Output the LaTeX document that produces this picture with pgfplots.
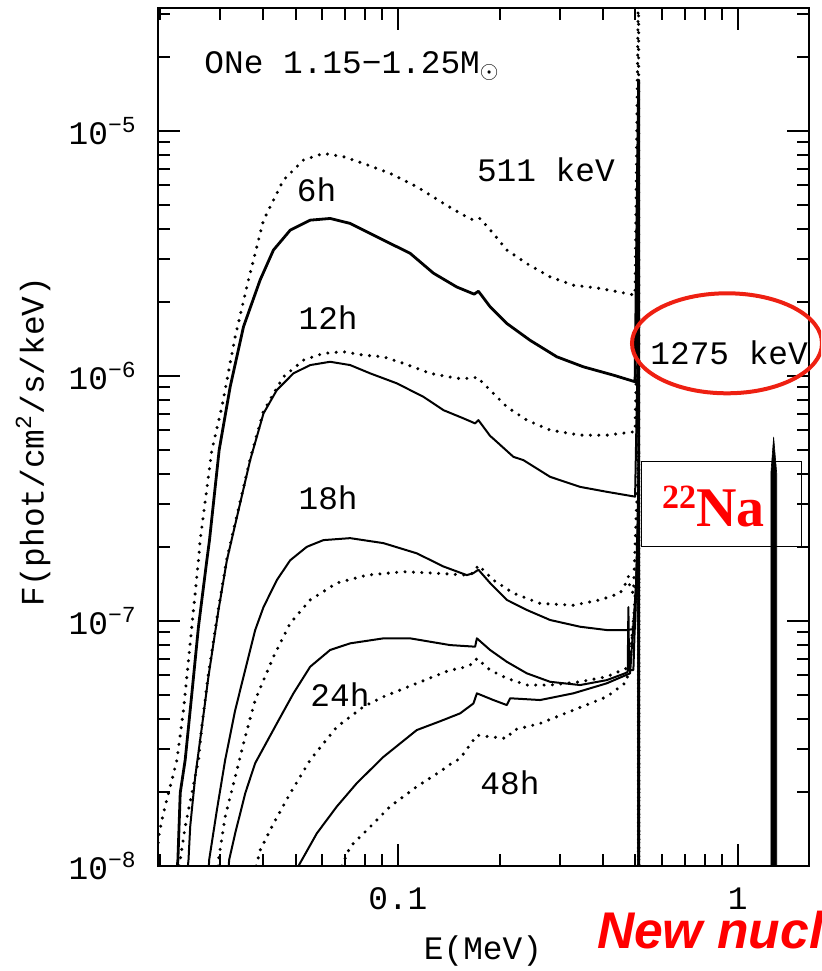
\documentclass[border=0pt]{standalone}
\usepackage{pgfplots}
\pgfplotsset{compat=1.18}
\usepackage{fontspec}
\setmainfont{Liberation Serif}
\setmonofont{Liberation Mono}
\newfontfamily\sansf{Liberation Sans}
\definecolor{annred}{RGB}{238,32,18}
\definecolor{txtred}{RGB}{255,0,0}
\newcommand{\monof}{\ttfamily\fontsize{16.4}{18}\selectfont}
\begin{document}
\begin{tikzpicture}
\useasboundingbox (-79pt,-52.5pt) rectangle (331.5pt,433pt);
\clip (-79pt,-52.5pt) rectangle (331.5pt,433pt);
\begin{axis}[
  at={(0pt,0pt)}, anchor=south west,
  scale only axis, width=325.5pt, height=429pt,
  xmode=log, ymode=log,
  xmin=0.0197, xmax=1.62, ymin=1e-8, ymax=3.18e-5,
  axis line style={line width=1.1pt},
  xtick={0.1,1}, xticklabels={0.1,1},
  minor xtick={0.02,0.03,0.04,0.05,0.06,0.07,0.08,0.09,0.2,0.3,0.4,0.5,0.6,0.7,0.8,0.9},
  ytick={1e-8,1e-7,1e-6,1e-5},
  yticklabels={10\textsuperscript{−8},10\textsuperscript{−7},10\textsuperscript{−6},10\textsuperscript{−5}},
  minor ytick={2e-8,3e-8,4e-8,5e-8,6e-8,7e-8,8e-8,9e-8,2e-7,3e-7,4e-7,5e-7,6e-7,7e-7,8e-7,9e-7,2e-6,3e-6,4e-6,5e-6,6e-6,7e-6,8e-6,9e-6,2e-5,3e-5},
  major tick length=11pt, minor tick length=6pt,
  tick style={black, line width=1pt},
  tick align=inside,
  tick label style={font=\monof, inner sep=0pt},
  xticklabel style={yshift=-10.5pt},
  yticklabel style={xshift=-10.5pt},
  solidc/.style={black, line width=1pt, line join=round},
  dotc/.style={black, line width=1.7pt, line cap=round, dash pattern=on 0pt off 4.2pt},
]
% 6h dotted
\addplot[dotc] coordinates {(0.0196,1.15e-8) (0.01986,1.36e-8) (0.02045,1.65e-8) (0.0214,2.11e-8) (0.02239,2.71e-8) (0.02341,4.33e-8) (0.02422,6.93e-8) (0.02505,1.11e-7) (0.02591,1.77e-7) (0.02621,2.14e-7) (0.02837,4.99e-7) (0.03037,7.49e-7) (0.03323,1.45e-6) (0.03636,2.47e-6) (0.04025,4.33e-6) (0.04607,6.31e-6) (0.05278,7.62e-6) (0.06042,8.11e-6) (0.06918,7.86e-6) (0.07921,7.38e-6) (0.09493,6.72e-6) (0.1137,5.93e-6) (0.1362,5.07e-6) (0.156,4.54e-6) (0.1669,4.33e-6) (0.1746,4.40e-6) (0.191,3.82e-6) (0.2092,3.27e-6) (0.2395,2.88e-6) (0.2805,2.54e-6) (0.3284,2.35e-6) (0.3936,2.28e-6) (0.4988,2.14e-6) (0.511,5e-5) (0.511,1e-9)};
% 6h solid
\addplot[solidc, line width=1.4pt] coordinates {(0.02245,1e-8) (0.02254,1.06e-8) (0.0229,1.99e-8) (0.02368,2.71e-8) (0.02478,5.07e-8) (0.02591,9.48e-8) (0.02742,1.77e-7) (0.02792,2.14e-7) (0.02981,4.99e-7) (0.03212,9.04e-7) (0.03515,1.59e-6) (0.03936,2.47e-6) (0.04306,3.27e-6) (0.04822,3.94e-6) (0.05522,4.33e-6) (0.06322,4.40e-6) (0.0724,4.20e-6) (0.0829,3.82e-6) (0.09493,3.48e-6) (0.1087,3.17e-6) (0.1273,2.63e-6) (0.1491,2.31e-6) (0.1677,2.16e-6) (0.1726,2.22e-6) (0.1868,1.92e-6) (0.2092,1.64e-6) (0.2449,1.40e-6) (0.2935,1.199e-6) (0.3514,1.091e-6) (0.4306,1.009e-6) (0.4988,9.48e-7) (0.511,1.616e-5) (0.511,1e-9)};
% 12h dotted
\addplot[dotc] coordinates {(0.0228,1e-8) (0.0229,1.06e-8) (0.02368,1.45e-8) (0.02478,1.98e-8) (0.02591,2.71e-8) (0.02652,3.75e-8) (0.02772,6.1e-8) (0.02968,1.13e-7) (0.03141,1.8e-7) (0.03678,4.6e-7) (0.04025,7.2e-7) (0.04607,9.93e-7) (0.05278,1.162e-6) (0.06042,1.238e-6) (0.06918,1.257e-6) (0.07921,1.218e-6) (0.09072,1.199e-6) (0.1039,1.127e-6) (0.1245,1.026e-6) (0.1491,9.79e-7) (0.1669,9.79e-7) (0.1708,9.93e-7) (0.1827,9.04e-7) (0.191,8.5e-7) (0.2092,7.49e-7) (0.2395,6.61e-7) (0.2805,6.02e-7) (0.3437,5.74e-7) (0.4118,5.74e-7) (0.4988,5.93e-7) (0.511,3e-6) (0.511,1e-9)};
% 12h solid
\addplot[solidc] coordinates {(0.02412,1e-8) (0.02422,1.06e-8) (0.0245,1.45e-8) (0.02534,2.31e-8) (0.02652,3.70e-8) (0.02772,5.93e-8) (0.02968,1.11e-7) (0.03141,1.77e-7) (0.03678,4.54e-7) (0.04025,7.04e-7) (0.04406,8.77e-7) (0.04931,1.026e-6) (0.05522,1.109e-6) (0.06322,1.144e-6) (0.0724,1.109e-6) (0.0829,1.026e-6) (0.09933,9.34e-7) (0.1189,8.23e-7) (0.1362,7.26e-7) (0.156,6.72e-7) (0.1688,6.41e-7) (0.1726,6.61e-7) (0.1868,5.7e-7) (0.191,5.55e-7) (0.2188,4.68e-7) (0.234,4.54e-7) (0.2805,3.88e-7) (0.3437,3.53e-7) (0.4118,3.37e-7) (0.4988,3.22e-7) (0.511,2e-6) (0.511,1e-9)};
% 18h solid
\addplot[solidc] coordinates {(0.0278,1e-8) (0.02786,1.06e-8) (0.02935,1.69e-8) (0.03105,2.71e-8) (0.03323,4.33e-8) (0.03556,6.31e-8) (0.03805,9.19e-8) (0.04025,1.14e-7) (0.04406,1.47e-7) (0.04822,1.77e-7) (0.054,2.01e-7) (0.06042,2.14e-7) (0.0724,2.18e-7) (0.09072,2.08e-7) (0.1137,1.89e-7) (0.1362,1.67e-7) (0.1596,1.54e-7) (0.1669,1.57e-7) (0.1726,1.62e-7) (0.1868,1.43e-7) (0.2092,1.22e-7) (0.2395,1.11e-7) (0.2805,1.01e-7) (0.3437,9.48e-8) (0.4118,9.19e-8) (0.4715,9.19e-8) (0.4988,9.3e-8) (0.511,4e-7) (0.511,1e-9)};
% 18h dotted
\addplot[dotc] coordinates {(0.0296,1e-8) (0.02968,1.06e-8) (0.03105,1.59e-8) (0.03323,2.31e-8) (0.03556,3.37e-8) (0.03805,4.76e-8) (0.04306,7.15e-8) (0.04822,9.79e-8) (0.05522,1.22e-7) (0.06616,1.43e-7) (0.08105,1.54e-7) (0.1039,1.59e-7) (0.1273,1.57e-7) (0.1596,1.54e-7) (0.1669,1.57e-7) (0.1726,1.69e-7) (0.191,1.47e-7) (0.2188,1.3e-7) (0.2621,1.18e-7) (0.3284,1.16e-7) (0.3936,1.22e-7) (0.4507,1.30e-7) (0.4715,1.45e-7) (0.4767,1.52e-7) (0.4822,1.35e-7) (0.4931,1.3e-7) (0.511,5e-7) (0.511,1e-9)};
% 24h solid
\addplot[solidc] coordinates {(0.0318,1e-8) (0.0319,1.06e-8) (0.03323,1.36e-8) (0.03556,1.98e-8) (0.03805,2.63e-8) (0.04406,3.82e-8) (0.04931,5.07e-8) (0.05522,6.51e-8) (0.06322,7.62e-8) (0.0724,8.11e-8) (0.09072,8.5e-8) (0.1087,8.5e-8) (0.1425,7.98e-8) (0.1688,7.86e-8) (0.1708,8.5e-8) (0.1868,7.62e-8) (0.2092,6.82e-8) (0.2395,6.12e-8) (0.2805,5.65e-8) (0.3437,5.48e-8) (0.4118,5.74e-8) (0.4661,6.12e-8) (0.4745,6.2e-8) (0.4767,1.14e-7) (0.479,6.3e-8) (0.4931,6.31e-8) (0.511,3e-7) (0.511,1e-9)};
% 24h dotted
\addplot[dotc] coordinates {(0.0383,1e-8) (0.03936,1.16e-8) (0.04306,1.49e-8) (0.04822,1.98e-8) (0.05522,2.71e-8) (0.06616,3.70e-8) (0.07921,4.47e-8) (0.09072,4.91e-8) (0.1137,5.57e-8) (0.1425,6.31e-8) (0.1525,6.4e-8) (0.1669,6.7e-8) (0.1708,7.04e-8) (0.1868,6.31e-8) (0.2092,5.84e-8) (0.2395,5.48e-8) (0.2805,5.48e-8) (0.3437,5.65e-8) (0.4118,5.93e-8) (0.4822,6.51e-8) (0.511,2e-7) (0.511,1e-9)};
% 48h solid
\addplot[solidc] coordinates {(0.051,1e-8) (0.05778,1.36e-8) (0.06616,1.75e-8) (0.07576,2.18e-8) (0.09072,2.79e-8) (0.1137,3.59e-8) (0.1332,3.9e-8) (0.1525,4.2e-8) (0.1669,4.61e-8) (0.1708,5.07e-8) (0.191,4.76e-8) (0.2092,4.54e-8) (0.214,4.84e-8) (0.2621,4.76e-8) (0.3284,5.07e-8) (0.4118,5.57e-8) (0.4822,6.12e-8) (0.511,2e-7) (0.511,1e-9)};
% 48h dotted
\addplot[dotc] coordinates {(0.06844,1e-8) (0.0724,1.2e-8) (0.08105,1.4e-8) (0.09493,1.75e-8) (0.1137,2.11e-8) (0.1332,2.43e-8) (0.1425,2.6e-8) (0.1525,2.75e-8) (0.1669,3.27e-8) (0.1708,3.42e-8) (0.1868,3.37e-8) (0.2092,3.32e-8) (0.2188,3.59e-8) (0.2621,3.82e-8) (0.3284,4.33e-8) (0.4118,4.91e-8) (0.4715,5.65e-8) (0.511,1.5e-7) (0.511,1e-9)};
% 1275 keV line
\addplot[fill=black, draw=black, line width=0.3pt] coordinates {(1.251,1e-9) (1.251,4.0e-7) (1.275,5.65e-7) (1.302,4.0e-7) (1.302,1e-9)};
\end{axis}
% text labels
\node[anchor=base west, inner sep=0pt, font=\monof] at (23pt,396.4pt) {ONe 1.15−1.25M$_\odot$};
\node[anchor=base west, inner sep=0pt, font=\monof] at (69.3pt,332.2pt) {6h};
\node[anchor=base west, inner sep=0pt, font=\monof] at (70.1pt,268pt) {12h};
\node[anchor=base west, inner sep=0pt, font=\monof] at (70.1pt,178pt) {18h};
\node[anchor=base west, inner sep=0pt, font=\monof] at (76pt,79.6pt) {24h};
\node[anchor=base west, inner sep=0pt, font=\monof] at (161pt,35.5pt) {48h};
\node[anchor=base west, inner sep=0pt, font=\monof] at (159.3pt,342.1pt) {511 keV};
\node[anchor=base west, inner sep=0pt, font=\monof] at (246pt,250.5pt) {1275 keV};
% axis labels
\node[font=\monof] at (162.5pt,-42.5pt) {E(MeV)};
\node[font=\monof, rotate=90] at (-62.5pt,212.2pt) {F(phot/cm\textsuperscript{2}/s/keV)};
% annotations
\draw[annred, line width=2pt] (284.5pt,261.35pt) ellipse [x radius=47.5pt, y radius=25pt];
\draw[black, line width=0.75pt] (241.85pt,159.65pt) rectangle (321.85pt,202.15pt);
\node[anchor=base west, inner sep=0pt, text=txtred, font=\rmfamily\bfseries] at (251.8pt,169.7pt) {{\fontsize{17}{17}\selectfont\raisebox{9.2pt}{22}}{\fontsize{28}{28}\selectfont Na}};
\node[anchor=base west, inner sep=0pt, text=txtred, font=\sansf\bfseries\itshape\fontsize{25.8}{28}\selectfont] at (219.3pt,-41.3pt) {New nucl};
\end{tikzpicture}
\end{document}
